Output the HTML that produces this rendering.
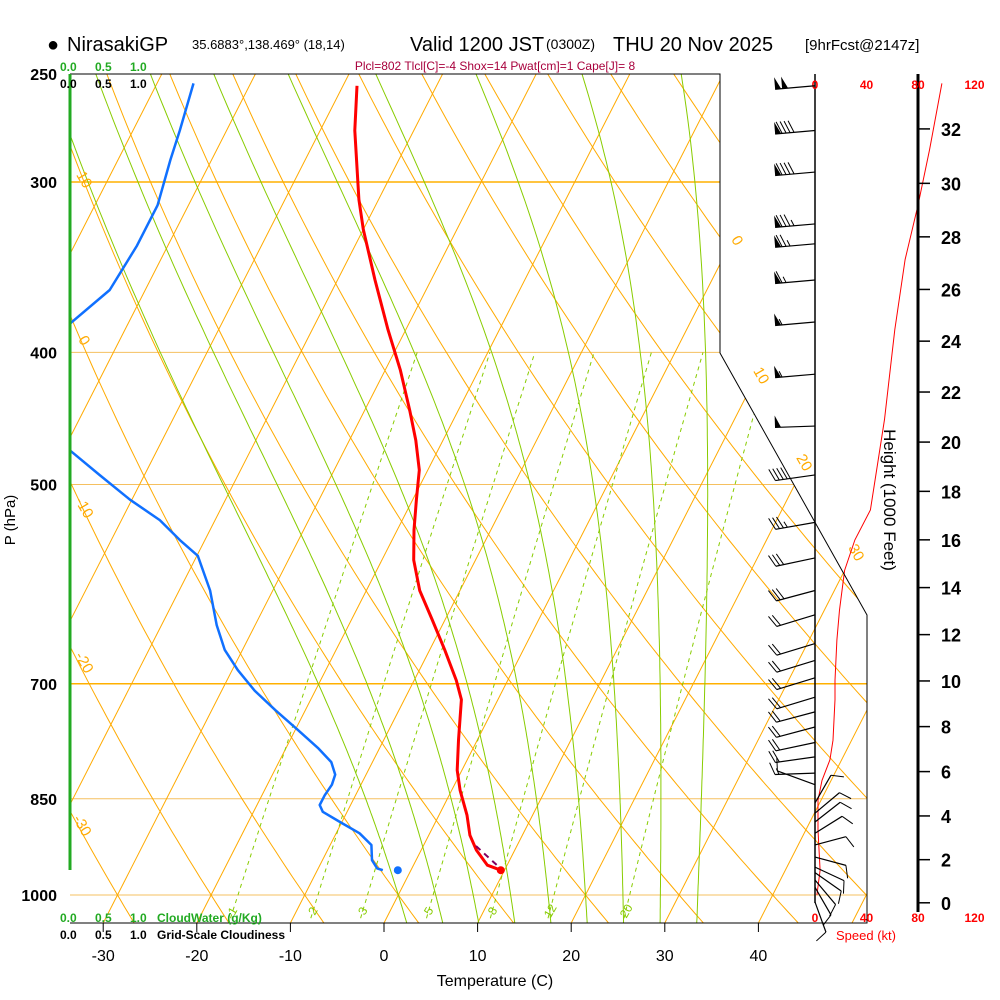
<!DOCTYPE html>
<html><head><meta charset="utf-8"><style>
html,body{margin:0;padding:0;background:#fff;}
svg{display:block;font-family:"Liberation Sans",sans-serif;}
</style></head><body>
<svg id="chart" width="1000" height="1000" viewBox="0 0 1000 1000" xmlns="http://www.w3.org/2000/svg">
<defs><clipPath id="plotclip"><polygon points="70,74 720,74 720,353 867,615 867,923 70,923"/></clipPath>
<clipPath id="leftclip"><rect x="70" y="74" width="800" height="850"/></clipPath></defs>
<g id="grid" clip-path="url(#plotclip)"></g>
<g id="profiles" clip-path="url(#leftclip)"></g>
<g id="axes"></g>
<g id="winds"></g>
<text x="47" y="51" font-size="20">●</text>
<text x="67" y="51" font-size="20">NirasakiGP</text>
<text x="192" y="49" font-size="13">35.6883°,138.469° (18,14)</text>
<text x="410" y="51" font-size="20">Valid 1200 JST</text>
<text x="546" y="49" font-size="14">(0300Z)</text>
<text x="613" y="51" font-size="20">THU 20 Nov 2025</text>
<text x="805" y="50" font-size="15">[9hrFcst@2147z]</text>
<text x="495" y="70" font-size="12" fill="#a8003c" text-anchor="middle">Plcl=802 Tlcl[C]=-4 Shox=14 Pwat[cm]=1 Cape[J]= 8</text>
<text x="15" y="520" font-size="15" text-anchor="middle" transform="rotate(-90 15 520)">P (hPa)</text>
<text x="495" y="986" font-size="16" text-anchor="middle">Temperature (C)</text>
<text x="884" y="500" font-size="17" text-anchor="middle" transform="rotate(90 884 500)">Height (1000 Feet)</text>
<text x="836" y="940" font-size="13" fill="#f00">Speed (kt)</text>
<g font-size="12" font-weight="bold">
<text x="60" y="71" fill="#22aa22">0.0</text><text x="95" y="71" fill="#22aa22">0.5</text><text x="130" y="71" fill="#22aa22">1.0</text>
<text x="60" y="88" fill="#000">0.0</text><text x="95" y="88" fill="#000">0.5</text><text x="130" y="88" fill="#000">1.0</text>
<text x="60" y="922" fill="#22aa22">0.0</text><text x="95" y="922" fill="#22aa22">0.5</text><text x="130" y="922" fill="#22aa22">1.0</text>
<text x="157" y="922" fill="#22aa22">CloudWater (g/Kg)</text>
<text x="60" y="939" fill="#000">0.0</text><text x="95" y="939" fill="#000">0.5</text><text x="130" y="939" fill="#000">1.0</text>
<text x="157" y="939" fill="#000">Grid-Scale Cloudiness</text>
</g>
</svg>
<script>
const NS="http://www.w3.org/2000/svg";
// ---- data ----
const tempP=[255,275,309,325,354,385,412,441,464,488,513,540,568,598,628,661,696,719,770,810,838,874,904,927,951,959];
const tempT=[-48.5,-46.3,-42.1,-40.0,-36.0,-31.9,-28.4,-25.2,-22.9,-20.9,-19.6,-18.2,-16.6,-14.3,-11.4,-8.4,-5.5,-3.9,-2.0,-0.5,0.9,3.0,4.4,5.9,7.9,9.6];
const dewP=[254,275,289,312,334,360,381,423,472,492,513,531,549,564,598,634,661,684,708,732,757,780,799,816,830,845,859,869,884,901,919,943,956,959];
const dewT=[-66.1,-65.0,-64.4,-63.3,-63.3,-63.8,-66.2,-74,-59.3,-54.8,-50.2,-45.9,-42.7,-39.9,-36.7,-34.1,-31.9,-29.4,-26.5,-23.2,-19.7,-16.6,-14.4,-13.3,-13.1,-13.3,-13.3,-12.6,-10.2,-7.5,-5.6,-4.7,-3.7,-3.0];
const sfcP=959, sfcT=9.6, sfcTd=-1.4;
const windP=[255,275,295,322,333,354,380,415,453,492,533,566,598,623,654,673,693,716,734,753,773,792,814,830,856,871,884,901,919,938,954,963,975,987,1012];
const windDir=[265,265,265,265,265,265,265,265,268,262,260,258,255,253,253,253,253,253,255,255,258,262,268,290,30,50,52,58,75,105,115,125,140,150,160];
const windSpd=[100,90,90,85,75,65,55,55,50,40,35,30,30,20,20,20,20,20,20,20,20,20,15,10,10,10,10,10,10,10,10,10,10,10,10];
const spdP=[254,284,312,342,385,448,522,549,578,618,650,696,719,770,796,824,852,896,959,1000];
const spdKt=[98.6,89,80,70,62,54,43,31,23,19,17,15.5,15.5,14,11.6,5.4,2.3,2.3,4,1.5];
const tempTicks=[-30,-20,-10,0,10,20,30,40];
const presTicks=[250,300,400,500,700,850,1000];
const heightTicks=[0,2,4,6,8,10,12,14,16,18,20,22,24,26,28,30,32];
const speedTicks=[0,40,80,120];
const mixRatios=[1,2,3,5,8,12,20];
const thetaW=[0,4,8,12,16,20,24,28,32];
const isotherms=[-130,-120,-110,-100,-90,-80,-70,-60,-50,-40,-30,-20,-10,0,10,20,30,40,50];
const dryTheta=[-60,-50,-40,-30,-20,-10,0,10,20,30,40,50,60,70,80,90,100,110,120,130,140,150,160,170,180];
// ---- scales ----
function yP(p){return 895-592.2*Math.log(1000/p);}
function xT(T,p){return 384+9.36*T+0.51*(923-yP(p));}
function xSpd(k){return 815+k*103/80;}
function zToP(kft){return 1013.25*Math.pow(1-kft*1000/145366,5.2559);}
function mk(tag,attrs,parent){const e=document.createElementNS(NS,tag);for(const k in attrs)e.setAttribute(k,attrs[k]);parent.appendChild(e);return e;}
const grid=document.getElementById('grid'),prof=document.getElementById('profiles'),axes=document.getElementById('axes'),winds=document.getElementById('winds');
function pathFrom(pts){return pts.map((q,i)=>(i?'L':'M')+q[0].toFixed(1)+','+q[1].toFixed(1)).join(' ');}
// pressure lines
presTicks.forEach(p=>{
 const l=mk('line',{x1:70,x2:870,y1:yP(p),y2:yP(p),stroke:(p==300||p==700)?'#ffb000':'#f5c060','stroke-width':(p==300||p==700)?1.5:1},grid);
 
 
});
// isotherms
isotherms.forEach(T=>{
 const l=mk('line',{x1:xT(T,1050),y1:yP(1050),x2:xT(T,240),y2:yP(240),stroke:'#ffaa00','stroke-width':1},grid);
 
 
});
// dry adiabats
dryTheta.forEach(th=>{
 const pts=[];for(let p=1050;p>=240;p-=10){const T=(th+273.15)*Math.pow(p/1000,0.2857)-273.15;pts.push([xT(T,p),yP(p)]);}
 const e=mk('path',{d:pathFrom(pts),fill:'none',stroke:'#ffaa00','stroke-width':1},grid);
 
 
});
// moist adiabats
function es(Tc){return 6.112*Math.exp(17.67*Tc/(Tc+243.5));}
function gam(Tk,p){const Tc=Tk-273.15,e=es(Tc),rs=0.622*e/(p-e),Lv=2.5e6,Rd=287,cp=1005;
 return (Rd*Tk+Lv*rs)/(p*(cp+Lv*Lv*rs*0.622/(Rd*Tk*Tk)));}
thetaW.forEach(tw=>{
 let pts=[];let T=tw+273.15;
 const down=[];let Td=T;for(let p=1000;p<=1050;p+=5){down.push([xT(Td-273.15,p),yP(p)]);Td+=gam(Td,p)*5;}
 down.reverse();pts=down;
 for(let p=1000;p>=240;p-=5){pts.push([xT(T-273.15,p),yP(p)]);T-=gam(T,p)*5;}
 const e=mk('path',{d:pathFrom(pts),fill:'none',stroke:'#88cc00','stroke-width':1},grid);
 
 
});
// mixing ratio lines
mixRatios.forEach(w=>{
 const pts=[];for(let p=1040;p>=400;p-=10){const e=w*p/(622+w),l=Math.log(e/6.112),Td=243.5*l/(17.67-l);pts.push([xT(Td,p),yP(p)]);}
 const e=mk('path',{d:pathFrom(pts),fill:'none',stroke:'#88cc00','stroke-width':1,'stroke-dasharray':'4,4'},grid);
 
 
 const p0=1045,ee=w*p0/(622+w),l=Math.log(ee/6.112),Td=243.5*l/(17.67-l);
 const t=mk('text',{x:xT(Td,p0)+3,y:915,'font-size':12,fill:'#88cc00','text-anchor':'middle',transform:'rotate(-60 '+(xT(Td,p0)+3)+' 911)'},grid);t.textContent=w;
 
 
});
// dry adiabat labels
[[10,80,182],[0,80,343],[-10,80,510],[-20,80,665],[-30,78,828],[0,733,243],[10,757,378],[20,800,465],[30,852,555]].forEach(a=>{
 const t=mk('text',{x:a[1],y:a[2],'font-size':15,fill:'#ffaa00','text-anchor':'middle',transform:'rotate(60 '+a[1]+' '+a[2]+')'},axes);t.textContent=a[0];
 
 
});
// profiles
function prPath(P,T){return pathFrom(P.map((p,i)=>[xT(T[i],p),yP(p)]));}
let e=mk('path',{d:prPath(tempP,tempT),fill:'none',stroke:'#ff0000','stroke-width':3,'stroke-linejoin':'round'},prof);


e=mk('path',{d:prPath(dewP,dewT),fill:'none',stroke:'#1070ff','stroke-width':2.5,'stroke-linejoin':'round'},prof);


e=mk('circle',{cx:xT(sfcT,sfcP),cy:yP(sfcP),r:4,fill:'#ff0000'},prof);


e=mk('circle',{cx:xT(sfcTd,sfcP),cy:yP(sfcP),r:4,fill:'#1070ff'},prof);


e=mk('path',{d:pathFrom([[476,846],[500,868]]),stroke:'#800060','stroke-width':2,'stroke-dasharray':'6,5',fill:'none'},prof);


// speed profile
e=mk('path',{d:pathFrom(spdP.map((p,i)=>[xSpd(spdKt[i]),yP(p)])),fill:'none',stroke:'#ff0000','stroke-width':1},axes);


// frame
e=mk('polyline',{points:'70,74 720,74 720,353 867,615 867,923 70,923',fill:'none',stroke:'#000','stroke-width':1},axes);


e=mk('line',{x1:70,y1:74,x2:70,y2:870,stroke:'#22aa22','stroke-width':3},axes);


e=mk('line',{x1:815,y1:74,x2:815,y2:903,stroke:'#000','stroke-width':1.5},axes);


e=mk('line',{x1:918,y1:74,x2:918,y2:912,stroke:'#000','stroke-width':3},axes);


tempTicks.forEach(T=>{const x=384+9.36*T;
 e=mk('line',{x1:x,x2:x,y1:923,y2:932,stroke:'#000'},axes);
 
 
 const t=mk('text',{x:x,y:961,'font-size':16,'text-anchor':'middle'},axes);t.textContent=T;
 
 
});
presTicks.forEach(p=>{const t=mk('text',{x:57,y:yP(p)+6,'font-size':16,'font-weight':'bold','text-anchor':'end'},axes);t.textContent=p;
 
 
});
heightTicks.forEach(z=>{const y=yP(zToP(z));
 e=mk('line',{x1:918,x2:930,y1:y,y2:y,stroke:'#000','stroke-width':1.5},axes);
 
 
 const t=mk('text',{x:941,y:y+7,'font-size':18,'font-weight':'bold'},axes);t.textContent=z;
 
 
});
speedTicks.forEach(k=>{
 [89,922].forEach(y=>{const t=mk('text',{x:xSpd(k)+(k==120?5:0),y:y,'font-size':12,'font-weight':'bold',fill:'#ff0000','text-anchor':'middle'},axes);t.textContent=k;
 
 });
});
// wind barbs
windP.forEach((p,i)=>{
 const y=yP(p),d=windDir[i]*Math.PI/180,ux=Math.sin(d),uy=-Math.cos(d),L=(p>840?32:40);
 const g=mk('g',{},winds);
 
 
 const tx=815+ux*L,ty=y+uy*L;
 mk('line',{x1:815,y1:y,x2:tx,y2:ty,stroke:'#000','stroke-width':1.2},g);
 const px=-uy,py=ux;let s=windSpd[i],pos=0;
 while(s>=50){const bx=tx-ux*pos,by=ty-uy*pos;
  mk('polygon',{points:bx+','+by+' '+(bx+px*12)+','+(by+py*12)+' '+(bx-ux*6)+','+(by-uy*6),fill:'#000'},g);pos+=7;s-=50;}
 while(s>=10){const bx=tx-ux*pos,by=ty-uy*pos;
  mk('line',{x1:bx,y1:by,x2:bx+px*12+ux*5,y2:by+py*12+uy*5,stroke:'#000'},g);pos+=4;s-=10;}
 if(s>=5){const bx=tx-ux*pos,by=ty-uy*pos;
  mk('line',{x1:bx,y1:by,x2:bx+px*6+ux*2.5,y2:by+py*6+uy*2.5,stroke:'#000'},g);}
});
</script>
</body></html>
